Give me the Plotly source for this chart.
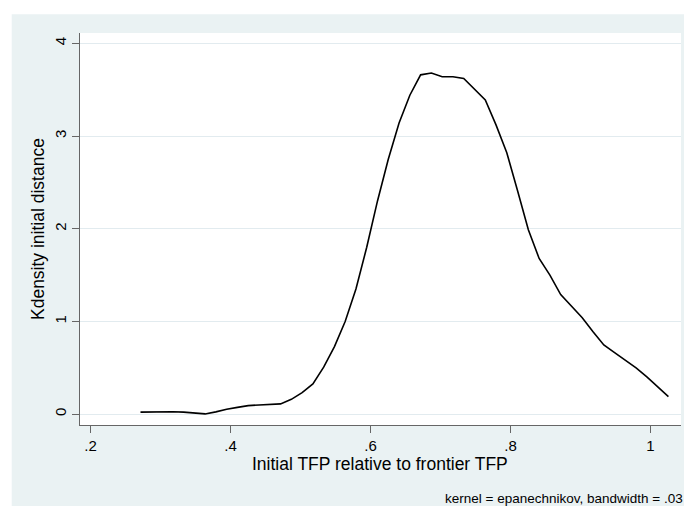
import plotly.graph_objects as go

# Evaluation grid of the kernel density estimate (initial TFP relative to frontier TFP)
tfp_grid = [0.2714, 0.2868, 0.3022, 0.3176, 0.3330, 0.3484, 0.3637, 0.3791, 0.3945, 0.4099,
            0.4253, 0.4407, 0.4561, 0.4715, 0.4869, 0.5023, 0.5177, 0.5331, 0.5485, 0.5638,
            0.5792, 0.5946, 0.6100, 0.6254, 0.6408, 0.6562, 0.6716, 0.6870, 0.7024, 0.7178,
            0.7332, 0.7486, 0.7640, 0.7793, 0.7947, 0.8101, 0.8255, 0.8409, 0.8563, 0.8717,
            0.8871, 0.9025, 0.9179, 0.9333, 0.9487, 0.9641, 0.9794, 0.9948, 1.0102, 1.0256]

# Estimated density values
density = [0.022, 0.026, 0.028, 0.026, 0.022, 0.012, 0.003, 0.025, 0.054, 0.074,
           0.092, 0.100, 0.105, 0.111, 0.160, 0.233, 0.327, 0.507, 0.729, 1.000,
           1.350, 1.800, 2.300, 2.750, 3.140, 3.440, 3.660, 3.680, 3.640, 3.640,
           3.620, 3.500, 3.390, 3.120, 2.820, 2.410, 1.990, 1.680, 1.500, 1.290,
           1.170, 1.040, 0.890, 0.747, 0.664, 0.580, 0.500, 0.403, 0.300, 0.190]

x_tick_vals = [0.2, 0.4, 0.6, 0.8, 1.0]
x_tick_text = [".2", ".4", ".6", ".8", "1"]
y_tick_vals = [0, 1, 2, 3, 4]
y_tick_text = ["0", "1", "2", "3", "4"]

x_title = "Initial TFP relative to frontier TFP"
y_title = "Kdensity initial distance"
note = "kernel = epanechnikov, bandwidth = .03"

FONT = "Liberation Sans, Arial, sans-serif"
BLUISH = "#EAF2F3"
GRID = "#E2EBEF"
AXIS = "#666666"

W, H = 684, 506
ML, MR, MT, MB = 80, 3, 33, 81
PW = W - ML - MR
PH = H - MT - MB

fig = go.Figure()
fig.add_trace(go.Scatter(
    x=tfp_grid, y=density, mode="lines",
    line=dict(color="black", width=1.6),
    showlegend=False, hoverinfo="skip",
))

fig.update_layout(
    width=W, height=H,
    margin=dict(l=ML, r=MR, t=MT, b=MB, pad=0),
    paper_bgcolor="white",
    plot_bgcolor="rgba(0,0,0,0)",
    font=dict(family=FONT, color="black", size=15),
    showlegend=False,
    shapes=[
        dict(type="rect", xref="paper", yref="paper",
             x0=(11.7 - ML) / PW, x1=1.2, y0=-0.4, y1=(H - MB - 14.3) / PH,
             fillcolor=BLUISH, line=dict(width=0), layer="below"),
        dict(type="rect", xref="paper", yref="paper",
             x0=0, x1=1, y0=0, y1=1,
             fillcolor="white", line=dict(width=0), layer="below"),
    ],
    annotations=[
        dict(text=x_title, xref="paper", yref="paper",
             x=(379.7 - ML) / PW, y=0, xanchor="center", yanchor="middle",
             yshift=-(464 - (H - MB)), showarrow=False,
             font=dict(family=FONT, size=17.5, color="black")),
        dict(text=y_title, xref="paper", yref="paper",
             x=(38 - ML) / PW, y=0.5, xanchor="center", yanchor="middle",
             textangle=-90, showarrow=False,
             font=dict(family=FONT, size=17.5, color="black")),
        dict(text=note, xref="paper", yref="paper",
             x=(442.5 - ML) / PW, y=0, xanchor="left", yanchor="middle",
             yshift=-(498 - (H - MB)), showarrow=False,
             font=dict(family=FONT, size=13.5, color="black")),
    ],
)

fig.update_xaxes(
    range=[0.185, 0.185 + PW / 700.0],
    tickmode="array", tickvals=x_tick_vals, ticktext=x_tick_text,
    showgrid=False, zeroline=False,
    showline=True, linecolor=AXIS, linewidth=1,
    ticks="outside", ticklen=7, tickcolor=AXIS, tickwidth=1,
    tickfont=dict(family=FONT, size=15, color="black"),
)
fig.update_yaxes(
    range=[-0.1165, -0.1165 + PH / 92.72],
    tickmode="array", tickvals=y_tick_vals, ticktext=y_tick_text,
    showgrid=True, gridcolor=GRID, gridwidth=1, zeroline=False,
    showline=True, linecolor=AXIS, linewidth=1,
    ticks="outside", ticklen=7, tickcolor=AXIS, tickwidth=1,
    tickangle=-90,
    tickfont=dict(family=FONT, size=15, color="black"),
)

fig.write_html(
    "out.html",
    config={"displayModeBar": False},
    post_script="document.body.style.margin='0';document.body.style.overflow='hidden';",
)
